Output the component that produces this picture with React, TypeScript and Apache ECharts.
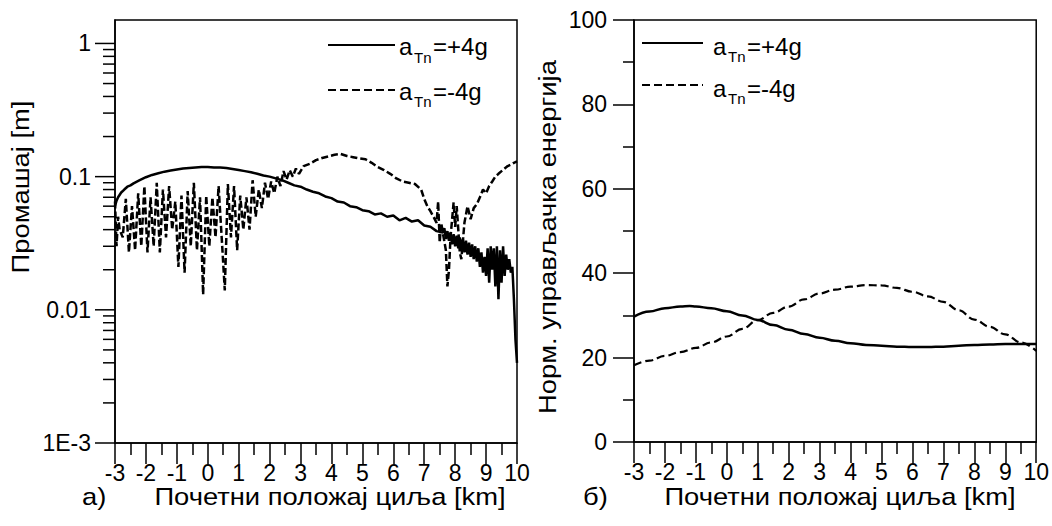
import React, { useEffect, useRef } from "react";
import * as echarts from "echarts";

const X_MIN = -3;
const X_MAX = 10;
const xTickLabels = ["-3", "-2", "-1", "0", "1", "2", "3", "4", "5", "6", "7", "8", "9", "10"];

// Panel a) – miss distance [m], log scale
const logMajorTicks = [0.001, 0.01, 0.1, 1];
const logMajorLabels = ["1E-3", "0.01", "0.1", "1"];
const logMinorTicks = [
  0.002, 0.003, 0.004, 0.005, 0.006, 0.007, 0.008, 0.009,
  0.02, 0.03, 0.04, 0.05, 0.06, 0.07, 0.08, 0.09,
  0.2, 0.3, 0.4, 0.5, 0.6, 0.7, 0.8, 0.9,
];

const missPlusX = [
  -3, -2.95, -2.9, -2.8, -2.7, -2.6, -2.5, -2.4, -2.2, -2.0, -1.8, -1.6, -1.4, -1.2, -1.0, -0.8, -0.6, -0.4, -0.2, 0,
  0.2, 0.4, 0.6, 0.8, 1.0, 1.2, 1.4, 1.6, 1.8, 2.0, 2.2, 2.4, 2.6, 2.8, 3.0, 3.2, 3.4, 3.6, 3.8, 4.0,
  4.2, 4.4, 4.6, 4.8, 5.0, 5.2, 5.4, 5.6, 5.8, 6.0, 6.2, 6.4, 6.6, 6.8, 7.0, 7.2, 7.4, 7.6,
  7.65, 7.7, 7.75, 7.8, 7.85, 7.9, 7.95, 8.0, 8.05, 8.1, 8.15, 8.2, 8.25, 8.3, 8.35, 8.4, 8.45, 8.5,
  8.55, 8.6, 8.65, 8.7, 8.75, 8.8, 8.85, 8.9, 8.95, 9.0, 9.05, 9.1, 9.15, 9.2, 9.25, 9.3, 9.35, 9.4,
  9.45, 9.5, 9.55, 9.6, 9.65, 9.7, 9.75, 9.8, 9.85, 9.9, 9.95, 10.0,
];
const missPlusY = [
  0.060, 0.066, 0.070, 0.076, 0.080, 0.084, 0.086, 0.089, 0.094, 0.099, 0.103, 0.106, 0.109, 0.111, 0.113, 0.115, 0.116, 0.117, 0.118, 0.118,
  0.117, 0.117, 0.116, 0.114, 0.112, 0.110, 0.108, 0.105, 0.102, 0.100, 0.097, 0.094, 0.090, 0.086, 0.084, 0.080, 0.077, 0.075, 0.071, 0.069,
  0.065, 0.064, 0.060, 0.059, 0.056, 0.055, 0.052, 0.053, 0.050, 0.051, 0.047, 0.049, 0.046, 0.047, 0.043, 0.042, 0.039, 0.038,
  0.041, 0.034, 0.039, 0.033, 0.038, 0.031, 0.037, 0.030, 0.036, 0.029, 0.035, 0.028, 0.034, 0.027, 0.033, 0.026, 0.032, 0.025,
  0.031, 0.024, 0.030, 0.023, 0.029, 0.021, 0.027, 0.019, 0.025, 0.018, 0.029, 0.016, 0.030, 0.020, 0.029, 0.015, 0.030, 0.012,
  0.028, 0.016, 0.030, 0.018, 0.026, 0.020, 0.024, 0.019, 0.021, 0.012, 0.006, 0.004,
];

const missMinusX = [
  -3.0, -2.95, -2.9, -2.85, -2.75, -2.65, -2.55, -2.45, -2.35, -2.25, -2.15, -2.05, -1.95, -1.85, -1.75, -1.65, -1.55, -1.45, -1.35, -1.25,
  -1.15, -1.05, -0.95, -0.85, -0.75, -0.65, -0.55, -0.45, -0.35, -0.25, -0.15, -0.05, 0.05, 0.15, 0.25, 0.35, 0.45, 0.55, 0.65, 0.75,
  0.85, 0.95, 1.05, 1.15, 1.25, 1.35, 1.45, 1.55, 1.65, 1.75, 1.85, 1.95, 2.05, 2.15, 2.25, 2.35, 2.45, 2.55, 2.65, 2.75,
  2.85, 2.95, 3.1, 3.3, 3.5, 3.7, 3.9, 4.1, 4.3, 4.5, 4.7, 4.9, 5.1, 5.3, 5.5, 5.7, 5.9, 6.1, 6.3, 6.5,
  6.7, 6.9, 7.0, 7.1, 7.2, 7.3, 7.4, 7.45, 7.5, 7.55, 7.6, 7.7, 7.75, 7.8, 7.85, 7.95, 8.0, 8.05, 8.15, 8.2,
  8.3, 8.4, 8.5, 8.6, 8.7, 8.8, 8.9, 9.0, 9.1, 9.2, 9.3, 9.4, 9.5, 9.6, 9.7, 9.8, 9.9, 10.0,
];
const missMinusY = [
  0.065, 0.030, 0.050, 0.040, 0.035, 0.068, 0.027, 0.060, 0.028, 0.075, 0.030, 0.085, 0.027, 0.070, 0.030, 0.090, 0.027, 0.080, 0.035, 0.085,
  0.040, 0.065, 0.021, 0.072, 0.019, 0.078, 0.030, 0.090, 0.028, 0.070, 0.013, 0.072, 0.030, 0.070, 0.035, 0.085, 0.035, 0.014, 0.088, 0.035,
  0.085, 0.028, 0.072, 0.040, 0.070, 0.040, 0.094, 0.050, 0.080, 0.058, 0.090, 0.068, 0.092, 0.075, 0.100, 0.085, 0.110, 0.095, 0.112, 0.100,
  0.115, 0.105, 0.120, 0.125, 0.133, 0.138, 0.142, 0.146, 0.148, 0.143, 0.140, 0.137, 0.135, 0.127, 0.118, 0.112, 0.105, 0.097, 0.092, 0.090,
  0.088, 0.080, 0.068, 0.060, 0.055, 0.050, 0.045, 0.065, 0.032, 0.045, 0.038, 0.028, 0.015, 0.020, 0.035, 0.064, 0.042, 0.060, 0.027, 0.024,
  0.045, 0.060, 0.048, 0.058, 0.062, 0.070, 0.080, 0.075, 0.085, 0.092, 0.100, 0.105, 0.110, 0.115, 0.120, 0.123, 0.127, 0.130,
];

// Panel б) – normalised control energy
const energyX = [
  -3, -2.5, -2, -1.5, -1.2, -1, -0.5, 0, 0.5, 1, 1.5, 2, 2.5, 3, 3.5, 4, 4.5, 5, 5.5, 6, 6.5, 7, 7.5, 8, 8.5, 9, 9.5, 10,
];
const energyPlus = [
  29.7, 30.9, 31.7, 32.1, 32.2, 32.1, 31.7, 31.0, 30.0, 28.9, 27.7, 26.6, 25.6, 24.7, 24.0, 23.4, 23.0, 22.8, 22.6, 22.5,
  22.5, 22.6, 22.8, 23.0, 23.1, 23.2, 23.2, 23.2,
];
const energyMinusX = [
  -3, -2.5, -2, -1.5, -1, -0.5, 0, 0.5, 1, 1.5, 2, 2.5, 3, 3.5, 4, 4.5, 5, 5.5, 6, 6.5, 7, 7.5, 8, 8.5, 9, 9.5, 10,
];
const energyMinus = [
  18.2, 19.3, 20.4, 21.3, 22.3, 23.6, 25.0, 26.8, 28.9, 30.6, 32.1, 33.8, 35.2, 36.1, 36.8, 37.2, 37.1, 36.5, 35.6, 34.5,
  33.2, 31.2, 29.0, 27.3, 25.5, 23.6, 21.6,
];

const seriesNames = ["+4g", "-4g"];

const FONT = "'Liberation Sans', Arial, sans-serif";
const BLACK = "#000";

function pairs(xs: number[], ys: number[]) {
  return xs.map((x, i) => [x, ys[i]]);
}

function xAxisCfg(gridIndex: number) {
  return {
    type: "value",
    gridIndex,
    min: X_MIN,
    max: X_MAX,
    interval: 1,
    axisLine: { show: true, onZero: false, lineStyle: { color: BLACK, width: 1.5 } },
    axisTick: { show: true, inside: false, length: 21, lineStyle: { color: BLACK, width: 1.5 } },
    minorTick: { show: true, splitNumber: 2, length: 12, lineStyle: { color: BLACK, width: 1.5 } },
    splitLine: { show: false },
    axisLabel: {
      color: BLACK,
      fontFamily: FONT,
      fontSize: 23,
      margin: 18,
      formatter: (v: number) => xTickLabels[Math.round(v - X_MIN)] ?? "",
    },
  };
}

function tickSeries(values: number[], len: number) {
  return {
    type: "custom",
    xAxisIndex: 0,
    yAxisIndex: 0,
    clip: false,
    silent: true,
    data: values.map((v) => [X_MIN, v]),
    encode: { x: 0, y: 1 },
    renderItem: (params: any, api: any) => {
      const p = api.coord([api.value(0), api.value(1)]);
      return {
        type: "line",
        shape: { x1: p[0] - len, y1: p[1], x2: p[0], y2: p[1] },
        style: { stroke: BLACK, lineWidth: 1.5 },
      };
    },
  };
}

function legendGraphics(x0: number, lineX1: number, lineX2: number, rows: { ly: number; base: number; sub: number }[]) {
  const els: any[] = [];
  rows.forEach((r, i) => {
    els.push({
      type: "line",
      shape: { x1: lineX1, y1: r.ly, x2: lineX2, y2: r.ly },
      style: { stroke: BLACK, lineWidth: 2.2, lineDash: i === 0 ? null : [8, 4] },
    });
    els.push({
      type: "text",
      x: x0,
      y: r.base - 8.4,
      style: { text: "a", font: `24px ${FONT}`, fill: BLACK, align: "left", verticalAlign: "middle" },
    });
    els.push({
      type: "text",
      x: x0 + 15,
      y: r.sub - 5.2,
      style: { text: "Tn", font: `15px ${FONT}`, fill: BLACK, align: "left", verticalAlign: "middle" },
    });
    els.push({
      type: "text",
      x: x0 + 34,
      y: r.base - 8.4,
      style: { text: "=" + seriesNames[i], font: `24px ${FONT}`, fill: BLACK, align: "left", verticalAlign: "middle" },
    });
  });
  return els;
}

function titleText(text: string, x: number, y: number, rotation = 0, align = "center") {
  return {
    type: "text",
    x,
    y,
    rotation,
    scaleX: 1.14,
    style: { text, font: `24px ${FONT}`, fill: BLACK, align, verticalAlign: "middle" },
  };
}

export default function App() {
  const ref = useRef<HTMLDivElement>(null);

  useEffect(() => {
    if (!ref.current) return;
    const chart = echarts.init(ref.current, null, { renderer: "svg" });

    const option: any = {
      animation: false,
      backgroundColor: "#fff",
      grid: [
        { left: 115, top: 20, width: 402, height: 423, show: true, borderColor: BLACK, borderWidth: 1.5, containLabel: false },
        { left: 634, top: 20, width: 403, height: 422, show: true, borderColor: BLACK, borderWidth: 1.5, containLabel: false },
      ],
      xAxis: [xAxisCfg(0), xAxisCfg(1)],
      yAxis: [
        {
          type: "log",
          gridIndex: 0,
          logBase: 10,
          min: 0.001,
          max: 1.5,
          axisLine: { show: true, onZero: false, lineStyle: { color: BLACK, width: 1.5 } },
          axisTick: { show: false },
          minorTick: { show: false },
          splitLine: { show: false },
          axisLabel: {
            color: BLACK,
            fontFamily: FONT,
            fontSize: 23,
            margin: 24,
            showMaxLabel: false,
            formatter: (v: number) => {
              const idx = logMajorTicks.findIndex((t) => Math.abs(v - t) / t < 1e-6);
              return idx >= 0 ? logMajorLabels[idx] : "";
            },
          },
        },
        {
          type: "value",
          gridIndex: 1,
          min: 0,
          max: 100,
          interval: 20,
          axisLine: { show: true, onZero: false, lineStyle: { color: BLACK, width: 1.5 } },
          axisTick: { show: true, inside: false, length: 21, lineStyle: { color: BLACK, width: 1.5 } },
          minorTick: { show: true, splitNumber: 2, length: 11, lineStyle: { color: BLACK, width: 1.5 } },
          splitLine: { show: false },
          axisLabel: { color: BLACK, fontFamily: FONT, fontSize: 23, margin: 27 },
        },
      ],
      series: [
        tickSeries(logMajorTicks, 20),
        tickSeries(logMinorTicks, 12),
        {
          name: seriesNames[0],
          type: "line",
          xAxisIndex: 0,
          yAxisIndex: 0,
          data: pairs(missPlusX, missPlusY),
          showSymbol: false,
          lineStyle: { color: BLACK, width: 2.5 },
        },
        {
          name: seriesNames[1],
          type: "line",
          xAxisIndex: 0,
          yAxisIndex: 0,
          data: pairs(missMinusX, missMinusY),
          showSymbol: false,
          lineStyle: { color: BLACK, width: 2.5, type: [7, 3] },
        },
        {
          name: seriesNames[0],
          type: "line",
          xAxisIndex: 1,
          yAxisIndex: 1,
          data: pairs(energyX, energyPlus),
          showSymbol: false,
          smooth: 0.4,
          smoothMonotone: "x",
          lineStyle: { color: BLACK, width: 2.5 },
        },
        {
          name: seriesNames[1],
          type: "line",
          xAxisIndex: 1,
          yAxisIndex: 1,
          data: pairs(energyMinusX, energyMinus),
          showSymbol: false,
          smooth: 0.4,
          smoothMonotone: "x",
          lineStyle: { color: BLACK, width: 2.2, type: [8, 4] },
        },
      ],
      graphic: [
        ...legendGraphics(399, 328, 395, [
          { ly: 45, base: 55, sub: 63 },
          { ly: 90, base: 100, sub: 107 },
        ]),
        ...legendGraphics(713, 642, 703, [
          { ly: 43, base: 55, sub: 62 },
          { ly: 85, base: 97, sub: 104 },
        ]),
        titleText("Почетни положај циља [km]", 330, 497),
        titleText("а)", 82, 497, 0, "left"),
        titleText("Почетни положај циља [km]", 840, 497),
        titleText("б)", 583, 497, 0, "left"),
        titleText("Промашај [m]", 21, 187, Math.PI / 2),
        titleText("Норм. управљачка енергија", 548, 237, Math.PI / 2),
      ],
    };

    chart.setOption(option);
    return () => chart.dispose();
  }, []);

  return (
    <div
      ref={ref}
      style={{ position: "absolute", left: 0, top: 0, width: 1052, height: 526, background: "#fff" }}
    />
  );
}
